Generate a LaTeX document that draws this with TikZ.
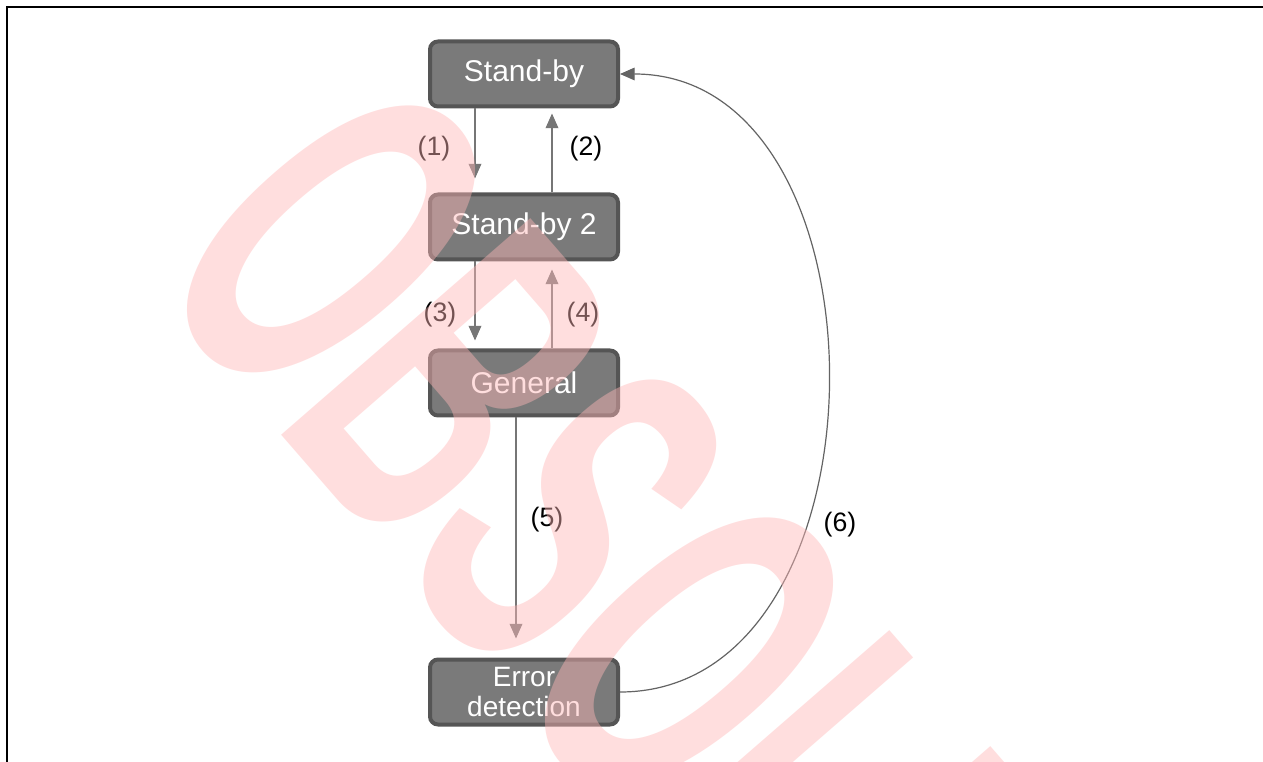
\documentclass[tikz,border=0pt]{standalone}
\usepackage{fontspec}
\setmainfont{Liberation Sans}
\usetikzlibrary{arrows.meta,calc}
\definecolor{boxfill}{RGB}{122,122,122}
\definecolor{boxline}{RGB}{85,85,85}
\definecolor{connc}{RGB}{118,118,118}
\definecolor{loopc}{RGB}{100,100,100}
\definecolor{wmpink}{RGB}{255,182,182}
\begin{document}
\begin{tikzpicture}[x=0.75pt,y=-0.75pt,
  statebox/.style={draw=boxline, fill=boxfill, line width=3pt, rounded corners=6pt,
    minimum width=141pt, minimum height=48.75pt, text=white, inner sep=0pt,
    align=center, font=\fontsize{22.5}{24}\selectfont},
  lbl/.style={font=\fontsize{20}{22}\selectfont, text=black, inner sep=0pt},
  conn/.style={draw=connc, line width=1pt, -{Triangle[width=9.5pt,length=11pt]}},
  loopconn/.style={draw=loopc, line width=0.9pt, -{Triangle[width=9.5pt,length=11pt]}},
  frameline/.style={draw=black, line width=1.5pt},
  watermark/.style={rotate=-49, anchor=base west, inner sep=0pt, text=wmpink,
    opacity=0.45, font=\fontsize{360}{360}\selectfont\bfseries}]
\useasboundingbox (0,0) rectangle (1263,762);
\fill[white] (0,0) rectangle (1263,762);
% frame
\draw[frameline] (7,770) -- (7,7) -- (1270,7);
% states
\node[statebox] (sb)  at (524,74)  {Stand-by};
\node[statebox] (sb2) at (524,227) {Stand-by 2};
\node[statebox] (gen) at (524,383) {General};
\node[statebox, font=\fontsize{21}{22}\selectfont] (err) at (524,692) {Error\\detection};
% connectors
\draw[conn] ($(sb.south)+(-49,0)$) -- ($(sb2.north)+(-49,-14)$);
\draw[conn] ($(sb2.north)+(28,0)$) -- ($(sb.south)+(28,5)$);
\draw[conn] ($(sb2.south)+(-49,0)$) -- ($(gen.north)+(-49,-8)$);
\draw[conn] ($(gen.north)+(28,0)$) -- ($(sb2.south)+(28,8)$);
\draw[conn] ($(gen.south)+(-8,0)$) -- ($(err.north)+(-8,-19)$);
\draw[loopconn] (err.east) .. controls +(277,0) and +(277,0) .. (sb.east);
% labels
\node[lbl] (l1) at (434,149) {(1)};
\node[lbl] (l2) at (586,149) {(2)};
\node[lbl] (l3) at (440,315) {(3)};
\node[lbl] (l4) at (583,315) {(4)};
\node[lbl] (l5) at (547,520) {(5)};
\node[lbl] (l6) at (840,525) {(6)};
% watermark
\begin{scope}
\clip (0,0) rectangle (1263,762);
\node[watermark] (wm) at (142,274) {\scalebox{0.525}[1]{OBSOLETE}};
\end{scope}
\end{tikzpicture}
\end{document}
